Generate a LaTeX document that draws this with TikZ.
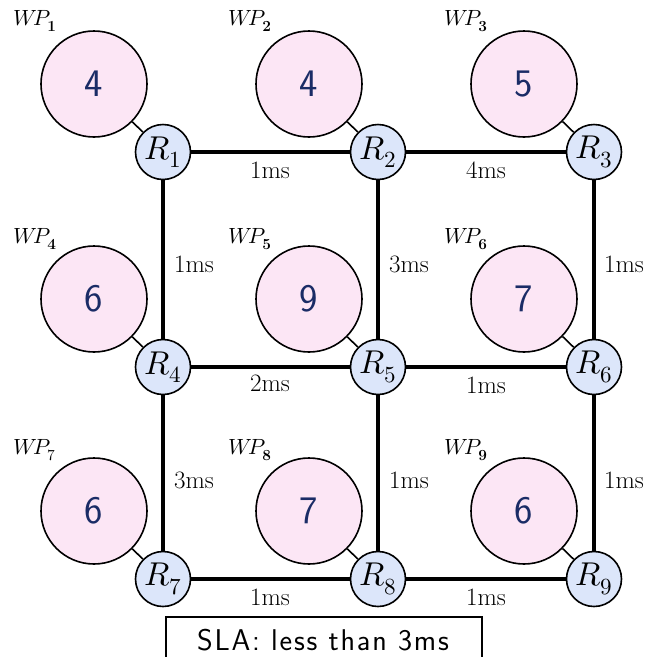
\documentclass[tikz,border=0pt]{standalone}
\usepackage{fontspec}
\setsansfont{Latin Modern Sans}
\usepackage{unicode-math}
\setmathfont{Latin Modern Math}
\begin{document}
\begin{tikzpicture}[x=1pt,y=-1pt,
  rnode/.style={circle,draw=black,line width=1.6pt,fill=rblue,minimum size=55pt,inner sep=0pt,font=\fontsize{33}{33}\selectfont},
  wpnode/.style={circle,draw=black,line width=1.6pt,fill=wppink,minimum size=106pt,inner sep=0pt,text=numblue,font=\fontsize{39}{39}\sffamily\selectfont},
  wplab/.style={inner sep=0pt,font=\fontsize{22}{22}\selectfont},
  edge/.style={line width=3.2pt},
  tie/.style={line width=1.6pt},
  ms/.style={inner sep=0pt,font=\fontsize{25}{25}\selectfont}]
\definecolor{rblue}{HTML}{DCE6FA}
\definecolor{wppink}{HTML}{FCE6F5}
\definecolor{numblue}{HTML}{1A2C66}
\useasboundingbox (0,0) rectangle (646,657);
\clip (0,0) rectangle (646,657);
% routers
\foreach \i/\x/\y in {1/163/152,2/378/152,3/594/152,4/163/367,5/378/367,6/594/367,7/163/579,8/378/579,9/594/579}{
  \coordinate (c\i) at (\x,\y);
}
% WP circles
\node[wpnode] (w1) at (94,84) {4};
\node[wpnode] (w2) at (309,84) {4};
\node[wpnode] (w3) at (524,84) {5};
\node[wpnode] (w4) at (94,299) {6};
\node[wpnode] (w5) at (309,299) {9};
\node[wpnode] (w6) at (524,299) {7};
\node[wpnode] (w7) at (94,511) {6};
\node[wpnode] (w8) at (309,511) {7};
\node[wpnode] (w9) at (524,511) {6};
% WP labels
\node[wplab] (l1) at (35,21) {$W\!P_{\mathbf{1}}$};
\node[wplab] (l2) at (250,21) {$W\!P_{\mathbf{2}}$};
\node[wplab] (l3) at (466,21) {$W\!P_{\mathbf{3}}$};
\node[wplab] (l4) at (35,239) {$W\!P_{\mathbf{4}}$};
\node[wplab] (l5) at (250,239) {$W\!P_{\mathbf{5}}$};
\node[wplab] (l6) at (466,239) {$W\!P_{\mathbf{6}}$};
\node[wplab] (l7) at (35,450) {$W\!P_{7}$};
\node[wplab] (l8) at (250,450) {$W\!P_{\mathbf{8}}$};
\node[wplab] (l9) at (466,450) {$W\!P_{\mathbf{9}}$};
% edges (drawn before routers)
\draw[edge] (c1) -- (c2) -- (c3) -- (c6) -- (c9) -- (c8) -- (c7) -- (c4) -- (c1);
\draw[edge] (c4) -- (c5) -- (c6);
\draw[edge] (c2) -- (c5) -- (c8);
% router nodes
\foreach \i in {1,...,9}{
  \node[rnode] (r\i) at (c\i) {$R_{\i}$};
}
% ties
\foreach \i in {1,...,9}{
  \draw[tie] (w\i) -- (r\i);
}
% edge labels
\node[ms] (m12) at (270,170) {1ms};
\node[ms] (m23) at (486,170) {4ms};
\node[ms] (m14) at (194,264) {1ms};
\node[ms] (m25) at (409,264) {3ms};
\node[ms] (m36) at (624,264) {1ms};
\node[ms] (m45) at (270,383) {2ms};
\node[ms] (m56) at (486,385) {1ms};
\node[ms] (m47) at (194,480) {3ms};
\node[ms] (m58) at (409,480) {1ms};
\node[ms] (m69) at (624,480) {1ms};
\node[ms] (m78) at (270,597) {1ms};
\node[ms] (m89) at (486,597) {1ms};
% SLA box
\draw[line width=2.4pt] (166,617) rectangle (482,680);
\node[inner sep=0pt,font=\fontsize{30}{30}\sffamily\selectfont\addfontfeature{LetterSpace=6}] (sla) at (323,640) {SLA: less than 3ms};
\end{tikzpicture}
\end{document}
